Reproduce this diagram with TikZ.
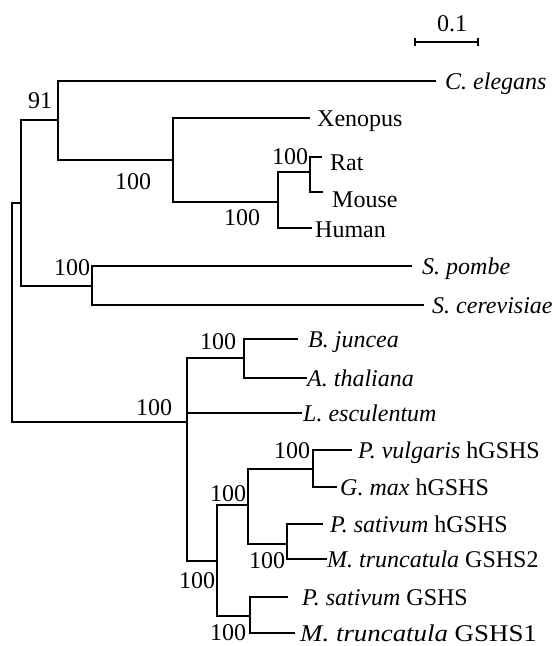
\documentclass[tikz,border=0pt]{standalone}
\usepackage{fontspec}
\usepackage{graphicx}
\setmainfont{Liberation Serif}
\begin{document}
\begin{tikzpicture}[x=1pt,y=-1pt,
  br/.style={line width=1.8pt, line join=miter},
  leaf/.style={anchor=base west, inner sep=0pt, font=\fontsize{24}{28}\selectfont},
  boot/.style={anchor=center, inner sep=0pt, font=\fontsize{24}{28}\selectfont}]
\useasboundingbox (0,0) rectangle (557,646);
% internal nodes
\coordinate (root) at (12,312);
\coordinate (B) at (21,203);
\coordinate (C) at (58,120);
\coordinate (D) at (173,160);
\coordinate (E) at (278,202);
\coordinate (F) at (310,172);
\coordinate (G) at (92,286);
\coordinate (P) at (187,422);
\coordinate (Q) at (244,358);
\coordinate (R) at (217,561);
\coordinate (S) at (248,505);
\coordinate (T) at (313,469);
\coordinate (U) at (287,544);
\coordinate (V) at (250,616);
% leaf tips
\coordinate (ceT) at (436,81);
\coordinate (xenT) at (310,118);
\coordinate (ratT) at (322,157);
\coordinate (mouT) at (323,192);
\coordinate (humT) at (312,228);
\coordinate (spT) at (412,266);
\coordinate (scT) at (424,305);
\coordinate (bjT) at (298,339);
\coordinate (atT) at (307,378);
\coordinate (leT) at (302,413);
\coordinate (pvT) at (352,450);
\coordinate (gmT) at (337,487);
\coordinate (ps1T) at (323,524);
\coordinate (mt2T) at (327,559);
\coordinate (ps2T) at (288,597);
\coordinate (mt1T) at (295,633);
% branches
\draw[br] (root) |- (B);
\draw[br] (root) |- (P);
\draw[br] (B) |- (C);
\draw[br] (B) |- (G);
\draw[br] (C) |- (ceT);
\draw[br] (C) |- (D);
\draw[br] (D) |- (xenT);
\draw[br] (D) |- (E);
\draw[br] (E) |- (F);
\draw[br] (E) |- (humT);
\draw[br] (F) |- (ratT);
\draw[br] (F) |- (mouT);
\draw[br] (G) |- (spT);
\draw[br] (G) |- (scT);
\draw[br] (P) |- (Q);
\draw[br] (P) |- (leT);
\draw[br] (P) |- (R);
\draw[br] (Q) |- (bjT);
\draw[br] (Q) |- (atT);
\draw[br] (R) |- (S);
\draw[br] (R) |- (V);
\draw[br] (S) |- (T);
\draw[br] (S) |- (U);
\draw[br] (T) |- (pvT);
\draw[br] (T) |- (gmT);
\draw[br] (U) |- (ps1T);
\draw[br] (U) |- (mt2T);
\draw[br] (V) |- (ps2T);
\draw[br] (V) |- (mt1T);
% leaf labels
\node[leaf] (ce) at (445,89) {\textit{C. elegans}};
\node[leaf] (xen) at (317,126) {Xenopus};
\node[leaf] (rat) at (330,170) {Rat};
\node[leaf] (mou) at (332,207) {Mouse};
\node[leaf] (hum) at (315,237) {Human};
\node[leaf] (sp) at (422,274) {\textit{S. pombe}};
\node[leaf] (sc) at (432,313) {\textit{S. cerevisiae}};
\node[leaf] (bj) at (308,347) {\textit{B. juncea}};
\node[leaf] (at) at (307,386) {\textit{A. thaliana}};
\node[leaf] (le) at (303,421) {\textit{L. esculentum}};
\node[leaf] (pv) at (358,458) {\textit{P. vulgaris} hGSHS};
\node[leaf] (gm) at (340,495) {\textit{G. max} hGSHS};
\node[leaf] (ps1) at (330,532) {\textit{P. sativum} hGSHS};
\node[leaf] (mt2) at (327,567) {\textit{M. truncatula} GSHS2};
\node[leaf] (ps2) at (302,605) {\textit{P. sativum} GSHS};
\node[leaf] (mt1) at (300,641) {\scalebox{1.12}[1]{\textit{M. truncatula} GSHS1}};
% bootstrap values
\node[boot] (bC) at (40,101) {91};
\node[boot] (bD) at (133,182) {100};
\node[boot] (bE) at (242,218) {100};
\node[boot] (bF) at (290,157) {100};
\node[boot] (bG) at (72,268) {100};
\node[boot] (bP) at (154,408) {100};
\node[boot] (bQ) at (218,342) {100};
\node[boot] (bS) at (228,494) {100};
\node[boot] (bR) at (197,581) {100};
\node[boot] (bV) at (228,633) {100};
\node[boot] (bU) at (267,561) {100};
\node[boot] (bT) at (292,451) {100};
% scale bar
\coordinate (sbL) at (415,42);
\coordinate (sbR) at (478,42);
\draw[line width=1.4pt] (sbL) -- (sbR);
\draw[line width=1.4pt] ([yshift=-4pt]sbL) -- ([yshift=4pt]sbL);
\draw[line width=1.4pt] ([yshift=-4pt]sbR) -- ([yshift=4pt]sbR);
\node[boot] (sbt) at (452,24) {0.1};
\end{tikzpicture}
\end{document}
